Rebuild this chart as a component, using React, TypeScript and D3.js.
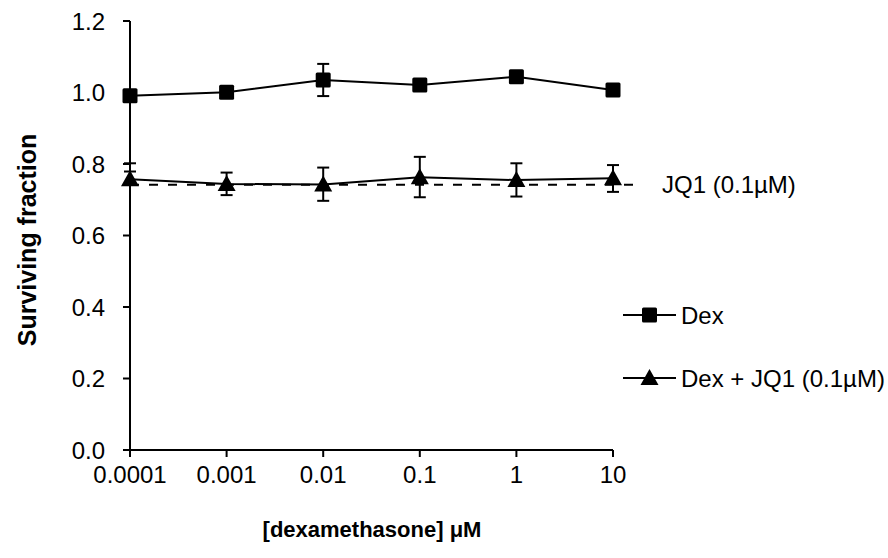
import React from "react";
import * as d3 from "d3";

const concentrations = [0.0001, 0.001, 0.01, 0.1, 1, 10];
const tickLabels = ["0.0001", "0.001", "0.01", "0.1", "1", "10"];
const dexValues = [0.991, 1.001, 1.035, 1.021, 1.044, 1.007];
const dexErr = [0.008, 0.008, 0.045, 0.008, 0.008, 0.008];
const dexJq1Values = [0.757, 0.744, 0.743, 0.763, 0.755, 0.76];
const dexJq1ErrUp = [0.045, 0.032, 0.047, 0.057, 0.047, 0.037];
const dexJq1ErrDown = [0, 0.031, 0.046, 0.056, 0.046, 0.038];
const jq1Value = 0.742;
const jq1ErrUp = 0.037;
const yTicks = [0, 0.2, 0.4, 0.6, 0.8, 1.0, 1.2];

const W = 888;
const H = 558;
const FONT = "'Liberation Sans', Arial, sans-serif";

export default function App() {
  const x = d3.scaleLog().domain([0.0001, 10]).range([130, 613]);
  const y = d3.scaleLinear().domain([0, 1.2]).range([450, 21]);
  const line = d3
    .line<number>()
    .x((_, i) => x(concentrations[i]))
    .y((d) => y(d));

  const sq = 15;
  const triPath = (cx: number, cy: number) =>
    `M${cx},${cy - 9} L${cx + 9},${cy + 7} L${cx - 9},${cy + 7} Z`;
  const cap = 6;

  const errBar = (cx: number, top: number, bottom: number, key: string, showTop = true, showBottom = true) => (
    <g key={key} stroke="#000" strokeWidth={2}>
      <line x1={cx} x2={cx} y1={y(top)} y2={y(bottom)} />
      {showTop && <line x1={cx - cap} x2={cx + cap} y1={y(top)} y2={y(top)} />}
      {showBottom && <line x1={cx - cap} x2={cx + cap} y1={y(bottom)} y2={y(bottom)} />}
    </g>
  );

  return (
    <svg width={W} height={H} style={{ position: "absolute", left: 0, top: 0 }} fontFamily={FONT}>
      <rect width={W} height={H} fill="#fff" />
      {/* axes */}
      <line x1={x(0.0001)} x2={x(0.0001)} y1={y(1.2)} y2={y(0)} stroke="#000" strokeWidth={2} />
      <line x1={x(0.0001)} x2={x(10)} y1={y(0)} y2={y(0)} stroke="#000" strokeWidth={2} />
      {yTicks.map((t) => (
        <g key={t}>
          <line x1={x(0.0001) - 7} x2={x(0.0001)} y1={y(t)} y2={y(t)} stroke="#000" strokeWidth={2} />
          <text x={105} y={y(t)} dy="0.36em" textAnchor="end" fontSize={24}>
            {t.toFixed(1)}
          </text>
        </g>
      ))}
      {concentrations.map((c, i) => (
        <g key={c}>
          <line x1={x(c)} x2={x(c)} y1={y(0)} y2={y(0) + 7} stroke="#000" strokeWidth={2} />
          <text x={x(c)} y={483} textAnchor="middle" fontSize={24}>
            {tickLabels[i]}
          </text>
        </g>
      ))}
      <text x={372} y={537} textAnchor="middle" fontSize={22} fontWeight="bold">
        [dexamethasone] μM
      </text>
      <text
        transform={`translate(36,240) rotate(-90)`}
        textAnchor="middle"
        fontSize={25}
        fontWeight="bold"
      >
        Surviving fraction
      </text>

      {/* JQ1 control dashed line */}
      <line
        x1={x(0.0001)}
        x2={x(10) + 28}
        y1={y(jq1Value)}
        y2={y(jq1Value)}
        stroke="#000"
        strokeWidth={2}
        strokeDasharray="9,10"
      />
      {errBar(x(0.0001), jq1Value + jq1ErrUp, jq1Value, "jq1err", true, false)}
      <text x={662} y={y(jq1Value)} dy="0.36em" fontSize={24}>
        JQ1 (0.1µM)
      </text>

      {/* Dex series */}
      <path d={line(dexValues) || ""} fill="none" stroke="#000" strokeWidth={2} />
      {dexValues.map((v, i) =>
        errBar(x(concentrations[i]), v + dexErr[i], v - dexErr[i], "de" + i)
      )}
      {dexValues.map((v, i) => (
        <rect
          key={"ds" + i}
          x={x(concentrations[i]) - sq / 2}
          y={y(v) - sq / 2}
          width={sq}
          height={sq}
          rx={1.5}
          fill="#000"
        />
      ))}

      {/* Dex + JQ1 series */}
      <path d={line(dexJq1Values) || ""} fill="none" stroke="#000" strokeWidth={2} />
      {dexJq1Values.map((v, i) =>
        errBar(
          x(concentrations[i]),
          v + dexJq1ErrUp[i],
          v - dexJq1ErrDown[i],
          "je" + i,
          true,
          dexJq1ErrDown[i] > 0
        )
      )}
      {dexJq1Values.map((v, i) => (
        <path key={"jt" + i} d={triPath(x(concentrations[i]), y(v))} fill="#000" />
      ))}

      {/* legend */}
      <g>
        <line x1={623} x2={676} y1={315} y2={315} stroke="#000" strokeWidth={2} />
        <rect x={649.5 - sq / 2} y={315 - sq / 2} width={sq} height={sq} rx={1.5} fill="#000" />
        <text x={681} y={315} dy="0.36em" fontSize={24}>
          Dex
        </text>
        <line x1={623} x2={676} y1={378} y2={378} stroke="#000" strokeWidth={2} />
        <path d={triPath(649.5, 378)} fill="#000" />
        <text x={681} y={378} dy="0.36em" fontSize={24}>
          Dex + JQ1 (0.1µM)
        </text>
      </g>
    </svg>
  );
}
